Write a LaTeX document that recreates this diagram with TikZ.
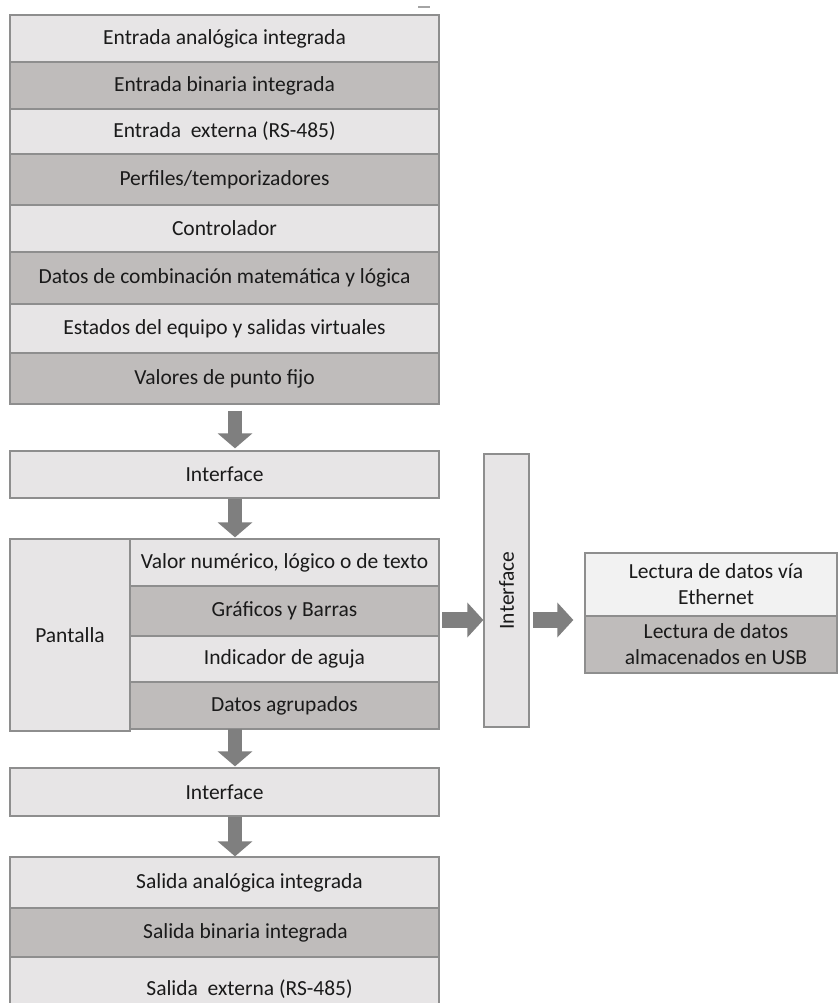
\documentclass[tikz,border=0pt]{standalone}
\usepackage{fontspec}
\setmainfont{Carlito}
\usetikzlibrary{arrows.meta}
\definecolor{cellA}{HTML}{E7E5E6}
\definecolor{cellB}{HTML}{BFBCBB}
\definecolor{cellC}{HTML}{F2F2F2}
\definecolor{edge}{HTML}{8E8E8E}
\definecolor{flow}{HTML}{7F7F7F}
\definecolor{ink}{HTML}{1A1A1A}
\tikzset{
  cell/.style={draw=edge, line width=1.3pt, inner sep=0pt, text=ink},
  lite/.style={cell, fill=cellA},
  dark/.style={cell, fill=cellB},
  pale/.style={cell, fill=cellC},
  % fat block arrow between boxes
  downflow/.style={draw=flow, line width=14pt,
    -{Triangle[width=34pt,length=15pt]}, color=flow},
  sideflow/.style={draw=flow, line width=16pt,
    -{Triangle[width=34pt,length=16pt]}, color=flow},
}
% box from (x0,y0) to (x1,y1) in pixel units
\newcommand{\cellbox}[7]{%
  \pgfmathsetlengthmacro{\cbw}{#4pt-#3pt}%
  \pgfmathsetlengthmacro{\cbh}{#6pt-#5pt}%
  \pgfmathsetmacro{\cbx}{(#3+#4)/2}%
  \pgfmathsetmacro{\cby}{(#5+#6)/2}%
  \node[#1, minimum width=\cbw, minimum height=\cbh]
    (#2) at (\cbx,\cby) {#7};}
\begin{document}
\begin{tikzpicture}[x=1pt, y=-1pt, font=\fontsize{21.5}{26}\selectfont]
\useasboundingbox (0,0) rectangle (838,1003);
\clip (0,0) rectangle (838,1003);
\fill[white] (0,0) rectangle (838,1003);

% small stroke above the first stack
\draw[edge!80, line width=1.5pt] (418,7) -- (430,7);

% input stack
\cellbox{lite}{in1}{10}{439}{15}{62}{Entrada analógica integrada}
\cellbox{dark}{in2}{10}{439}{62}{109}{Entrada binaria integrada}
\cellbox{lite}{in3}{10}{439}{109}{154}{Entrada\ \ externa (RS-485)}
\cellbox{dark}{in4}{10}{439}{154}{205}{Perfiles/temporizadores}
\cellbox{lite}{in5}{10}{439}{205}{252}{Controlador}
\cellbox{dark}{in6}{10}{439}{252}{304}{Datos de combinación matemática y lógica}
\cellbox{lite}{in7}{10}{439}{304}{353}{Estados del equipo y salidas virtuales}
\cellbox{dark}{in8}{10}{439}{353}{404}{Valores de punto fijo}

% first interface
\cellbox{lite}{ifa}{10}{439}{451}{498}{Interface}

% display block
\cellbox{lite}{disp}{10}{130}{539}{731}{Pantalla}
\cellbox{lite}{d1}{130}{439}{539}{586}{Valor numérico, lógico o de texto}
\cellbox{dark}{d2}{130}{439}{586}{636}{Gráficos y Barras}
\cellbox{lite}{d3}{130}{439}{636}{682}{Indicador de aguja}
\cellbox{dark}{d4}{130}{439}{682}{729}{Datos agrupados}

% second interface
\cellbox{lite}{ifb}{10}{439}{768}{816}{Interface}

% output stack
\cellbox{lite}{out1}{10}{439}{857}{908}{}
\cellbox{dark}{out2}{10}{439}{908}{957}{}
\cellbox{lite}{out3}{10}{439}{957}{1013}{}
\node[text=ink] at ([xshift=25pt]out1.center) {Salida analógica integrada};
\node[text=ink] at ([xshift=21pt]out2.center) {Salida binaria integrada};
\node[text=ink] at ([xshift=25pt,yshift=-4pt]out3.center) {Salida\ \ externa (RS-485)};

% vertical interface and data reading
\cellbox{lite}{ifv}{484}{529}{454}{727}{}
\node[text=ink, rotate=90] at (ifv.center) {Interface};
\cellbox{pale}{rd1}{585}{837}{553}{616}{}
\cellbox{dark}{rd2}{585}{837}{616}{673}{}
\node[text=ink, align=center] at ([xshift=5pt]rd1.center) {Lectura de datos vía\\Ethernet};
\node[text=ink, align=center] at ([xshift=5pt]rd2.center) {Lectura de datos\\almacenados en USB};

% flow arrows
\draw[downflow] ([xshift=10.5pt,yshift=-6pt]in8.south) -- ([xshift=10.5pt,yshift=2pt]ifa.north);
\draw[downflow] ([xshift=10.5pt]ifa.south) -- ([xshift=10.5pt,yshift=1pt]ifa.south |- d1.north);
\draw[downflow] ([xshift=10.5pt,yshift=1pt]ifb.north |- d4.south) -- ([xshift=10.5pt,yshift=1pt]ifb.north);
\draw[downflow] ([xshift=10.5pt]ifb.south) -- ([xshift=10.5pt]out1.north);
\coordinate (sideA) at (442,620);
\coordinate (sideB) at (533,620);
\draw[sideflow] (sideA) -- (sideA -| ifv.west);
\draw[sideflow] (sideB) -- ([xshift=-11pt]sideB -| rd1.west);
\end{tikzpicture}
\end{document}
